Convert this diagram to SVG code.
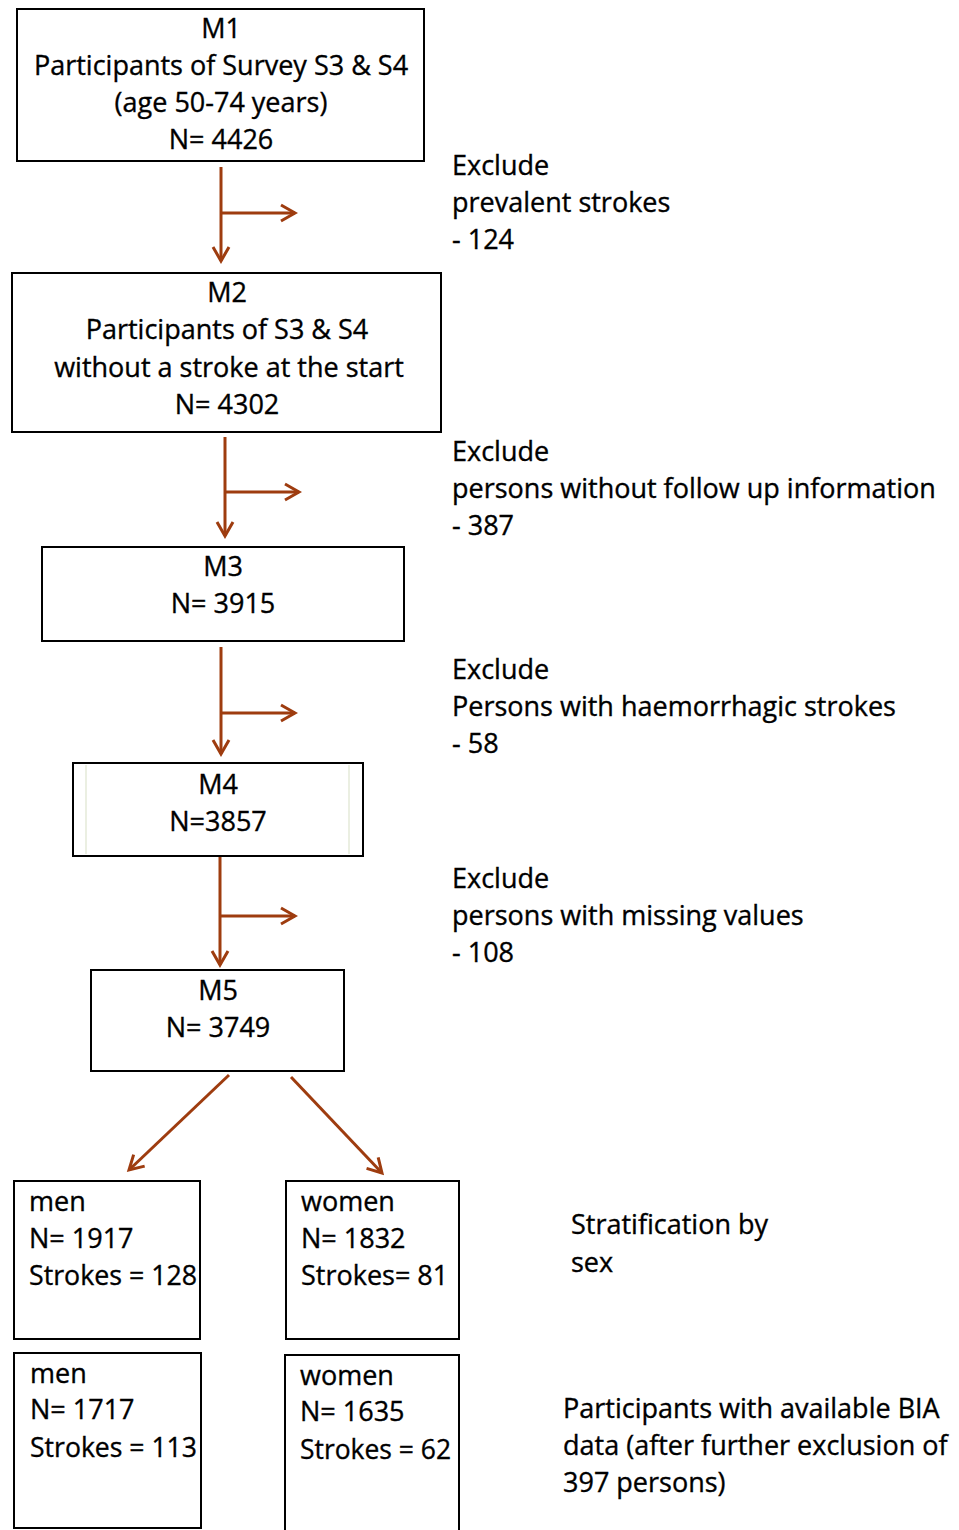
<svg xmlns="http://www.w3.org/2000/svg" width="959" height="1530" viewBox="0 0 959 1530">
<style>
.box{fill:#fff;stroke:#000;stroke-width:2}
.t{font-family:"Open Sans","Liberation Sans",sans-serif;font-size:27px;fill:#000;stroke:#000;stroke-width:0.35px}
.c{text-anchor:middle}
.con{stroke:#9e3c0f;stroke-width:3;fill:none}
</style>
<defs>
<marker id="ah" viewBox="0 0 20 20" refX="17" refY="10" markerWidth="20" markerHeight="20" markerUnits="userSpaceOnUse" orient="auto">
<path d="M3,2 L17,10 L3,18" fill="none" stroke="#9e3c0f" stroke-width="3"/>
</marker>
</defs>
<rect width="959" height="1530" fill="#fff"/>
<g id="connectors">
<line class="con" x1="221" y1="167" x2="221" y2="261" marker-end="url(#ah)"/>
<line class="con" x1="220" y1="213" x2="295" y2="213" marker-end="url(#ah)"/>
<line class="con" x1="225" y1="437" x2="225" y2="536" marker-end="url(#ah)"/>
<line class="con" x1="224" y1="492" x2="299" y2="492" marker-end="url(#ah)"/>
<line class="con" x1="221" y1="647" x2="221" y2="754" marker-end="url(#ah)"/>
<line class="con" x1="220" y1="713" x2="295" y2="713" marker-end="url(#ah)"/>
<line class="con" x1="220" y1="857" x2="220" y2="965" marker-end="url(#ah)"/>
<line class="con" x1="219" y1="916" x2="295" y2="916" marker-end="url(#ah)"/>
<line class="con" x1="229" y1="1075" x2="129" y2="1170" marker-end="url(#ah)"/>
<line class="con" x1="291" y1="1077" x2="382" y2="1173" marker-end="url(#ah)"/>
</g>
<g id="M1">
<rect class="box" x="17" y="9" width="407" height="152"/>
<text class="t c" x="221" y="38">M1</text>
<text class="t c" x="221" y="75">Participants of Survey S3 &amp; S4</text>
<text class="t c" x="221" y="112">(age 50-74 years)</text>
<text class="t c" x="221" y="149">N= 4426</text>
</g>
<g id="ex1">
<text class="t" x="452" y="175">Exclude</text>
<text class="t" x="452" y="212">prevalent strokes</text>
<text class="t" x="452" y="249">- 124</text>
</g>
<g id="M2">
<rect class="box" x="12" y="273" width="429" height="159"/>
<text class="t c" x="227" y="302">M2</text>
<text class="t c" x="227" y="339">Participants of S3 &amp; S4</text>
<text class="t c" x="229" y="377">without a stroke at the start</text>
<text class="t c" x="227" y="414">N= 4302</text>
</g>
<g id="ex2">
<text class="t" x="452" y="461">Exclude</text>
<text class="t" x="452" y="498">persons without follow up information</text>
<text class="t" x="452" y="535">- 387</text>
</g>
<g id="M3">
<rect class="box" x="42" y="547" width="362" height="94"/>
<text class="t c" x="223" y="576">M3</text>
<text class="t c" x="223" y="613">N= 3915</text>
</g>
<g id="ex3">
<text class="t" x="452" y="679">Exclude</text>
<text class="t" x="452" y="716">Persons with haemorrhagic strokes</text>
<text class="t" x="452" y="753">- 58</text>
</g>
<g id="M4">
<rect class="box" x="73" y="763" width="290" height="93"/>
<line x1="86" y1="765" x2="86" y2="854" stroke="#e4ead8" stroke-width="1.5"/>
<line x1="349" y1="765" x2="349" y2="854" stroke="#e4ead8" stroke-width="1.5"/>
<text class="t c" x="218" y="794">M4</text>
<text class="t c" x="218" y="831">N=3857</text>
</g>
<g id="ex4">
<text class="t" x="452" y="888">Exclude</text>
<text class="t" x="452" y="925">persons with missing values</text>
<text class="t" x="452" y="962">- 108</text>
</g>
<g id="M5">
<rect class="box" x="91" y="970" width="253" height="101"/>
<text class="t c" x="218" y="1000">M5</text>
<text class="t c" x="218" y="1037">N= 3749</text>
</g>
<g id="men1">
<rect class="box" x="14" y="1181" width="186" height="158"/>
<text class="t" x="29" y="1211">men</text>
<text class="t" x="29" y="1248">N= 1917</text>
<text class="t" x="29" y="1285" textLength="168" lengthAdjust="spacingAndGlyphs">Strokes = 128</text>
</g>
<g id="women1">
<rect class="box" x="286" y="1181" width="173" height="158"/>
<text class="t" x="301" y="1211">women</text>
<text class="t" x="301" y="1248">N= 1832</text>
<text class="t" x="301" y="1285">Strokes= 81</text>
</g>
<g id="strat">
<text class="t" x="571" y="1234">Stratification by</text>
<text class="t" x="571" y="1272">sex</text>
</g>
<g id="men2">
<rect class="box" x="14" y="1353" width="187" height="175"/>
<text class="t" x="30" y="1383">men</text>
<text class="t" x="30" y="1419">N= 1717</text>
<text class="t" x="30" y="1457" textLength="167" lengthAdjust="spacingAndGlyphs">Strokes = 113</text>
</g>
<g id="women2">
<rect class="box" x="285" y="1355" width="174" height="176"/>
<text class="t" x="300" y="1385">women</text>
<text class="t" x="300" y="1421">N= 1635</text>
<text class="t" x="300" y="1459" textLength="151" lengthAdjust="spacingAndGlyphs">Strokes = 62</text>
</g>
<g id="bia">
<text class="t" x="563" y="1418">Participants with available BIA</text>
<text class="t" x="563" y="1455">data (after further exclusion of</text>
<text class="t" x="563" y="1492">397 persons)</text>
</g>
</svg>
